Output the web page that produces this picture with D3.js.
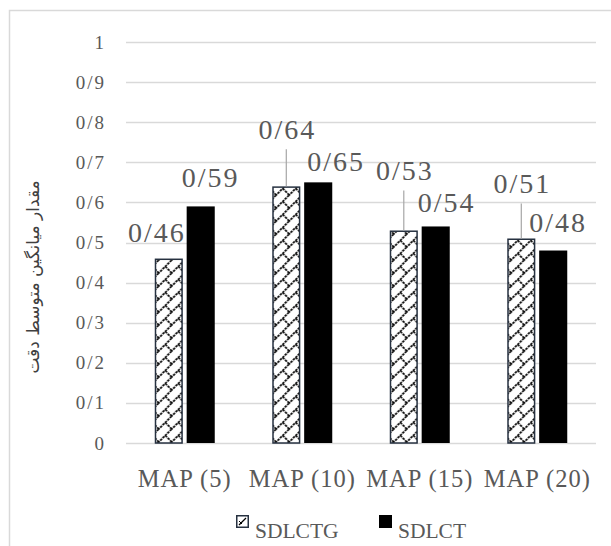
<!DOCTYPE html>
<html>
<head>
<meta charset="utf-8">
<script src="https://cdn.jsdelivr.net/npm/d3@7"></script>
<style>
  html, body { margin: 0; padding: 0; background: #fff; }
  svg { display: block; }
  .serif { font-family: "Liberation Serif", "Times New Roman", serif; }
</style>
</head>
<body>
<svg id="chart" width="611" height="546"></svg>
<script>
// Categories and series
const categories = ["MAP (5)", "MAP (10)", "MAP (15)", "MAP (20)"];
const seriesNames = ["SDLCTG", "SDLCT"];
const sdlctg = [0.46, 0.64, 0.53, 0.51];
const sdlct = [0.59, 0.65, 0.54, 0.48];
const yTicks = [0, 0.1, 0.2, 0.3, 0.4, 0.5, 0.6, 0.7, 0.8, 0.9, 1];
const yTitle = "مقدار میانگین متوسط دقت";

// Manual label placement (px offsets from bar centre / bar top), leader flag
const labelLayout = [
  [{dx: -13, dy: -17, leader: false}, {dx: 9, dy: -19, leader: false}],
  [{dx: 0, dy: -47, leader: true}, {dx: 17, dy: -11, leader: false}],
  [{dx: 0, dy: -50, leader: true}, {dx: 10, dy: -14, leader: false}],
  [{dx: 0, dy: -45, leader: true}, {dx: 4, dy: -19, leader: false}]
];

const svg = d3.select("#chart");
const textColor = "#595959";
const gridColor = "#d9d9d9";

// Chart frame
svg.append("rect")
  .attr("x", 9.5).attr("y", 10.5)
  .attr("width", 620).attr("height", 560)
  .attr("fill", "none").attr("stroke", gridColor).attr("stroke-width", 1.5);

// Diagonal brick pattern
const defs = svg.append("defs");
const pat = defs.append("pattern")
  .attr("id", "brick")
  .attr("patternUnits", "userSpaceOnUse")
  .attr("width", 13).attr("height", 13);
pat.append("rect").attr("width", 13).attr("height", 13).attr("fill", "#fff");
pat.append("path")
  .attr("d", "M-1,14 L14,-1 M6.5,6.5 L13,13 M-1,1 L1,-1")
  .attr("stroke", "#000").attr("stroke-width", 1.7)
  .attr("stroke-dasharray", "2.5,0.9")
  .attr("fill", "none");

const x = d3.scaleBand().domain(categories).range([126, 596]).padding(0);
const xInner = d3.scaleBand().domain(seriesNames).range([-30, 30]).paddingInner(0.12);
const y = d3.scaleLinear().domain([0, 1]).range([443, 42]);

// Gridlines
svg.append("g")
  .selectAll("line")
  .data(yTicks)
  .join("line")
  .attr("x1", 126).attr("x2", 596)
  .attr("y1", d => Math.round(y(d)) + 0.5)
  .attr("y2", d => Math.round(y(d)) + 0.5)
  .attr("stroke", gridColor).attr("stroke-width", 1.5);

// Y tick labels
svg.append("g")
  .selectAll("text")
  .data(yTicks)
  .join("text")
  .attr("class", "serif")
  .attr("x", 106)
  .attr("y", d => y(d) + 6.5)
  .attr("text-anchor", "end")
  .attr("font-size", 19)
  .attr("letter-spacing", 2)
  .attr("fill", textColor)
  .text(d => d === 0 ? "0" : d === 1 ? "1" : "0/" + Math.round(d * 10));

// Y axis title
svg.append("text")
  .attr("transform", "translate(39,277) rotate(-90)")
  .attr("text-anchor", "middle")
  .attr("font-family", "DejaVu Sans")
  .attr("font-size", 17)
  .attr("fill", "#404040")
  .attr("direction", "rtl")
  .text(yTitle);

// Bars
const rows = categories.map((c, i) => ({cat: c, i, vals: [sdlctg[i], sdlct[i]]}));
const groups = svg.append("g").selectAll("g")
  .data(rows)
  .join("g")
  .attr("transform", d => `translate(${x(d.cat) + x.bandwidth() / 2},0)`);

groups.each(function(row) {
  const g = d3.select(this);
  row.vals.forEach((v, s) => {
    const bx = xInner(seriesNames[s]);
    const bw = xInner.bandwidth();
    if (s === 0) {
      g.append("rect")
        .attr("x", bx + 0.75).attr("y", y(v) + 0.75)
        .attr("width", bw - 1.5).attr("height", y(0) - y(v) - 0.75)
        .attr("fill", "url(#brick)")
        .attr("stroke", "#263140").attr("stroke-width", 1.5);
    } else {
      g.append("rect")
        .attr("x", bx).attr("y", y(v))
        .attr("width", bw).attr("height", y(0) - y(v))
        .attr("fill", "#000");
    }
    const lay = labelLayout[row.i][s];
    const cx = bx + bw / 2;
    if (lay.leader) {
      g.append("line")
        .attr("x1", cx).attr("x2", cx)
        .attr("y1", y(v)).attr("y2", y(v) + lay.dy + 10)
        .attr("stroke", "#a6a6a6").attr("stroke-width", 1.2);
    }
    g.append("text")
      .attr("class", "serif")
      .attr("x", cx + lay.dx + 1)
      .attr("y", y(v) + lay.dy)
      .attr("text-anchor", "middle")
      .attr("font-size", 28)
      .attr("letter-spacing", 2)
      .attr("fill", textColor)
      .text("0/" + Math.round(v * 100));
  });
});

// Category labels
svg.append("g")
  .selectAll("text")
  .data(categories)
  .join("text")
  .attr("class", "serif")
  .attr("x", d => x(d) + x.bandwidth() / 2)
  .attr("y", 487)
  .attr("text-anchor", "middle")
  .attr("font-size", 24.5)
  .attr("letter-spacing", 1)
  .attr("fill", textColor)
  .text(d => d);

// Legend
const legend = svg.append("g");
const legendItems = [
  {name: seriesNames[0], sx: 236, fill: "url(#brick)"},
  {name: seriesNames[1], sx: 379, fill: "#000"}
];
legendItems.forEach((it, k) => {
  if (k === 0) {
    legend.append("rect")
      .attr("x", it.sx + 0.75).attr("y", 515.75)
      .attr("width", 11.5).attr("height", 11.5)
      .attr("fill", "#fff")
      .attr("stroke", "#263140").attr("stroke-width", 1.5);
    legend.append("path")
      .attr("d", `M${it.sx + 3},${525} L${it.sx + 10},${518}`)
      .attr("stroke", "#000").attr("stroke-width", 1.3);
    legend.append("path")
      .attr("d", `M${it.sx + 3},${521} L${it.sx + 6},${524}`)
      .attr("stroke", "#000").attr("stroke-width", 1);
  } else {
    legend.append("rect")
      .attr("x", it.sx).attr("y", 515)
      .attr("width", 13).attr("height", 13)
      .attr("fill", it.fill);
  }
  legend.append("text")
    .attr("class", "serif")
    .attr("x", it.sx + 19)
    .attr("y", 538)
    .attr("font-size", 21.5)
    .attr("fill", textColor)
    .text(it.name);
});
</script>
</body>
</html>
